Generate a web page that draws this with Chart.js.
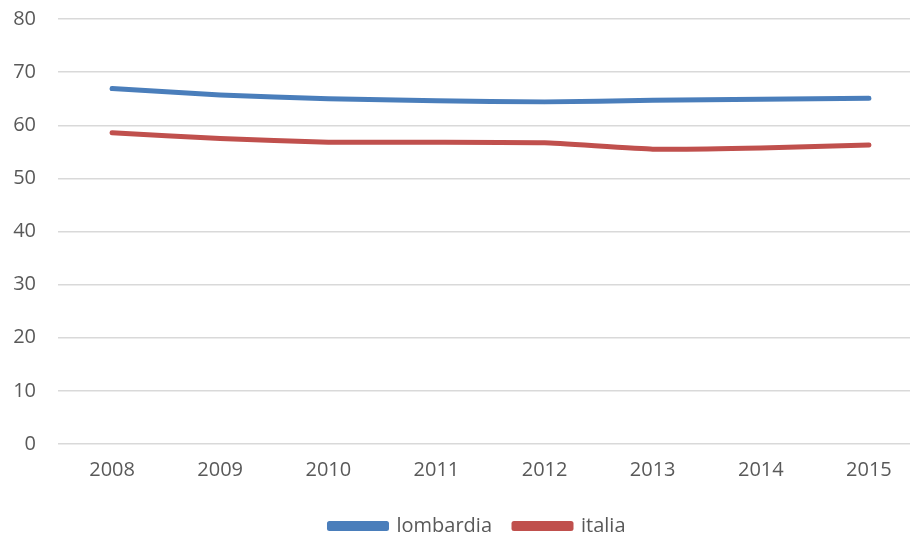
<!DOCTYPE html>
<html>
<head>
<meta charset="utf-8">
<script src="https://cdn.jsdelivr.net/npm/chart.js@4/dist/chart.umd.min.js"></script>
<style>
html,body{margin:0;padding:0;background:#fff;overflow:hidden;}
#wrap{width:924px;height:536px;position:relative;}
</style>
</head>
<body>
<div id="wrap"><canvas id="c"></canvas></div>
<script>
const years = ["2008","2009","2010","2011","2012","2013","2014","2015"];
const lombardia = [66.9, 65.7, 65.0, 64.6, 64.4, 64.7, 64.9, 65.1];
const italia = [58.6, 57.5, 56.8, 56.8, 56.7, 55.5, 55.7, 56.3];
const yTicks = [0, 10, 20, 30, 40, 50, 60, 70, 80];

const FONT = "'Open Sans', 'Liberation Sans', sans-serif";
const legendShift = {
  id: 'legendShift',
  afterLayout(chart) {
    const l = chart.legend;
    if (l) { l.left += 16; l.right += 16; l.top += 11; l.bottom += 11; }
  }
};

new Chart(document.getElementById('c'), {
  type: 'line',
  data: {
    labels: years,
    datasets: [
      { label: 'lombardia', data: lombardia, borderColor: '#4a7ebb', backgroundColor: '#4a7ebb',
        borderWidth: 5, pointRadius: 0, tension: 0.12, borderCapStyle: 'round', borderJoinStyle: 'round' },
      { label: 'italia', data: italia, borderColor: '#c0504d', backgroundColor: '#c0504d',
        borderWidth: 5, pointRadius: 0, tension: 0.12, borderCapStyle: 'round', borderJoinStyle: 'round' }
    ]
  },
  options: {
    responsive: true,
    maintainAspectRatio: false,
    animation: false,
    layout: { padding: { top: 19, right: 1, left: 0, bottom: 1 } },
    plugins: {
      tooltip: { enabled: false },
      legend: {
        position: 'bottom',
        labels: {
          font: { family: FONT, size: 20 },
          color: '#595959',
          boxWidth: 57,
          boxHeight: 5,
          padding: 22
        }
      }
    },
    scales: {
      x: {
        offset: true,
        afterFit(scale) { scale.height = 39; },
        grid: { display: false, drawTicks: false },
        border: { display: false },
        ticks: { font: { family: FONT, size: 20 }, color: '#595959', padding: 14, maxRotation: 0 }
      },
      y: {
        min: 0, max: 80,
        afterBuildTicks(scale) { scale.ticks = yTicks.map(v => ({ value: v })); },
        afterFit(scale) { scale.width = 58; },
        grid: { color: '#d9d9d9', lineWidth: 1.5, drawTicks: true, tickLength: 22, tickColor: 'rgba(0,0,0,0)' },
        border: { display: false },
        ticks: { font: { family: FONT, size: 20 }, color: '#595959', padding: 0 }
      }
    }
  },
  plugins: [legendShift]
});
</script>
</body>
</html>
